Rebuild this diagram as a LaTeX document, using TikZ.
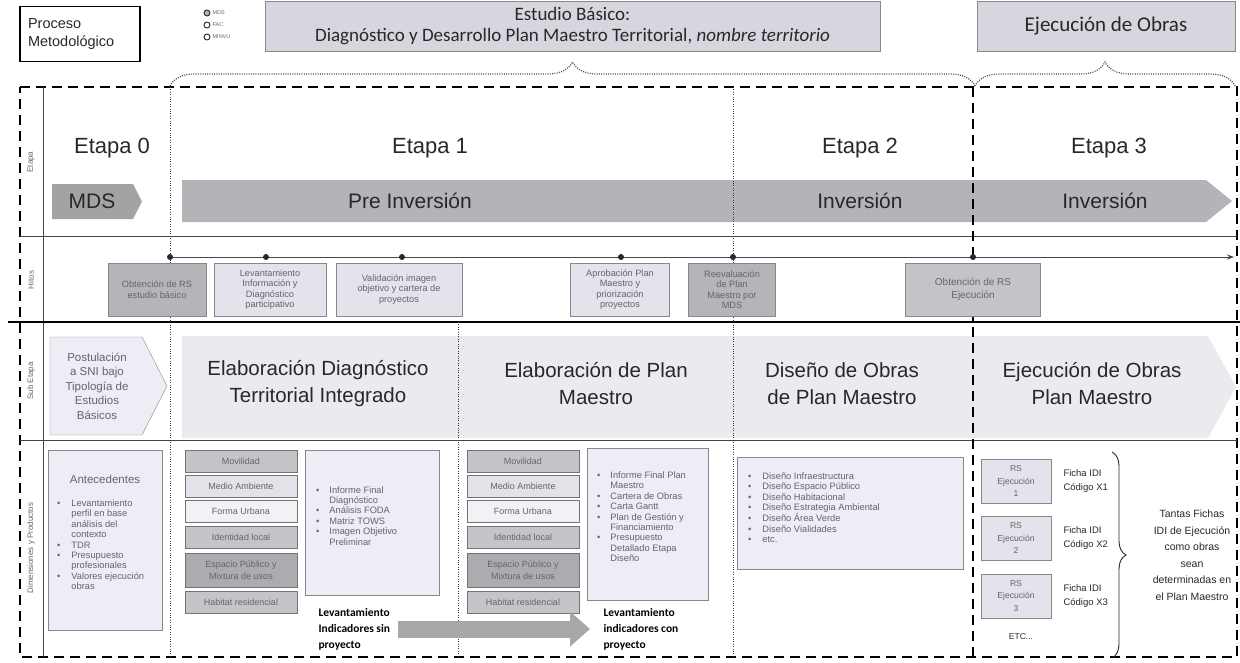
\documentclass[tikz,border=0pt]{standalone}
\usepackage{fontspec}
\setmainfont{Liberation Sans}
\newfontfamily\calfont{Carlito}
\usetikzlibrary{positioning,arrows.meta,decorations.pathreplacing}
\definecolor{inkdark}{RGB}{40,40,40}
\definecolor{inksoft}{RGB}{100,100,106}
\definecolor{gridline}{RGB}{70,70,70}
\definecolor{boxline}{RGB}{135,135,140}
\definecolor{lavlight}{RGB}{237,237,245}
\definecolor{titlefill}{RGB}{214,214,222}
\definecolor{hitodark}{RGB}{180,180,185}
\definecolor{hitomid}{RGB}{196,196,200}
\definecolor{hitolight}{RGB}{227,227,235}
\definecolor{mdsgray}{RGB}{163,163,166}
\definecolor{etapagray}{RGB}{180,180,184}
\definecolor{subgray}{RGB}{235,235,239}
\definecolor{dimmid}{RGB}{197,197,201}
\definecolor{dimsoft}{RGB}{226,226,232}
\definecolor{dimpale}{RGB}{241,241,246}
\definecolor{dimdark}{RGB}{172,172,176}
\definecolor{levgray}{RGB}{168,168,171}

\begin{document}
\begin{tikzpicture}[x=1pt, y=-1pt,
  hdr/.style={text=inkdark, font=\fontsize{22}{26}\selectfont},
  arrtext/.style={text=inkdark, font=\fontsize{21}{25}\selectfont},
  subtext/.style={text=inkdark, align=center, font=\fontsize{20.5}{27}\selectfont},
  rowlabel/.style={rotate=90, text=inksoft, font=\fontsize{8}{9}\selectfont},
  topbox/.style={draw=boxline, fill=titlefill, align=center, text=inkdark},
  legdot/.style={circle, draw=inkdark, line width=0.9pt, inner sep=0pt, minimum size=6pt, fill=white},
  legtext/.style={text=inksoft, inner sep=1pt, font=\fontsize{5.5}{6}\selectfont},
  hito/.style={draw=boxline, align=center, text=inksoft, inner sep=1pt, minimum height=53pt, font=\fontsize{9.2}{10.5}\selectfont},
  dimbox/.style={draw=gray!90!black, align=center, text=inksoft, inner sep=1pt, minimum width=112pt, font=\fontsize{9}{11.5}\selectfont},
  prodbox/.style={draw=boxline, fill=lavlight},
  prodlist/.style={anchor=west, text=inksoft, inner sep=0pt, align=left, font=\fontsize{9.3}{10.4}\selectfont},
  levtext/.style={anchor=west, align=left, text=black, font=\calfont\bfseries\fontsize{11.5}{16}\selectfont},
  rsbox/.style={draw=boxline, fill=hitolight, align=center, text=inksoft, minimum width=70pt, minimum height=44pt, inner sep=1pt, font=\fontsize{8.6}{12.5}\selectfont},
  ficha/.style={anchor=west, align=left, text=inkdark, font=\fontsize{9.5}{14}\selectfont},
  framedash/.style={line width=1.8pt, dash pattern=on 10pt off 6pt},
  dotline/.style={line width=0.9pt, gray!45!black, dash pattern=on 1pt off 1.4pt},
  dotbrace/.style={decorate, decoration={brace, amplitude=24pt}, gray!60!black, line width=1.2pt, dash pattern=on 1pt off 1.3pt}
]
\useasboundingbox (0,0) rectangle (1240,662);

% Header
\node[draw=black, line width=1.3pt, minimum width=120pt, minimum height=55pt, text width=104pt, align=left,
  text=inkdark, font=\fontsize{14.5}{18}\selectfont] (proceso) at (80,34) {Proceso\\Metodológico};
\node[legdot, fill=hitodark] (dmds) at (207,13) {};
\node[legdot] (dfac) at (207,25) {};
\node[legdot] (dminvu) at (207,37) {};
\node[legtext, right=1pt of dmds] (lmds) {MDS};
\node[legtext, right=1pt of dfac] (lfac) {FAC};
\node[legtext, right=1pt of dminvu] (lminvu) {MINVU};
\node[topbox, minimum width=615pt, minimum height=50pt, font=\calfont\fontsize{19}{21.5}\selectfont] (estudio) at (572.5,26)
  {Estudio Básico:\\Diagnóstico y Desarrollo Plan Maestro Territorial, \textit{nombre territorio}};
\node[topbox, minimum width=258pt, minimum height=50pt, font=\calfont\fontsize{21}{23}\selectfont] (ejecucion) at (1106,26) {Ejecución de Obras};
\draw[dotbrace] (170,86) -- (975,86);
\draw[dotbrace] (975,86) -- (1235,86);

% Arrows (Etapa and Sub Etapa)
\fill[mdsgray] (52,184) -- (133,184) -- (142,201.5) -- (133,219) -- (52,219) -- cycle;
\fill[etapagray] (182,180) -- (1206,180) -- (1232,201) -- (1206,222) -- (182,222) -- cycle;
\filldraw[fill=lavlight, draw=boxline] (50,337) -- (142,337) -- (167,386) -- (142,435) -- (50,435) -- cycle;
\fill[subgray] (182,336) -- (1208,336) -- (1236,387) -- (1208,438) -- (182,438) -- cycle;

% Grid
\draw[framedash] (20,87) -- (1237,87) -- (1237,657) -- (20,657) -- cycle;
\draw[gridline, line width=0.8pt] (43,87) -- (43,657);
\draw[gridline, line width=0.8pt] (20,236) -- (1237,236);
\draw[gridline, line width=0.8pt] (20,440) -- (1237,440);
\draw[black, line width=1.8pt] (8,322) -- (1240,322);
\draw[dotline] (170,87) -- (170,657);
\draw[dotline] (733,87) -- (733,657);
\draw[dotline] (458,322) -- (458,657);
\draw[framedash] (973,87) -- (973,657);

% Hitos line
\coordinate (hstart) at (170,257);
\coordinate (hend) at (1234,257);
\draw[gridline, line width=0.9pt, -{Stealth[length=7pt,width=5pt]}] (hstart) -- (hend);
\foreach \x in {170,266,402,621,733,973}
  \fill[inkdark] (\x,257) circle (3pt);

% Row labels
\node[rowlabel] (letapa) at (31,162) {Etapa};
\node[rowlabel] (lhitos) at (31,280) {Hitos};
\node[rowlabel] (lsub) at (31,381) {Sub Etapa};
\node[rowlabel] (ldim) at (31,548) {Dimensiones y Productos};

% Etapas
\node[hdr] (e0) at (112,148) {Etapa 0};
\node[hdr] (e1) at (430,148) {Etapa 1};
\node[hdr] (e2) at (860,148) {Etapa 2};
\node[hdr] (e3) at (1109,148) {Etapa 3};
\node[arrtext] (mds) at (92,201) {MDS};
\node[arrtext] (preinv) at (410,201) {Pre Inversión};
\node[arrtext] (inv2) at (860,201) {Inversión};
\node[arrtext] (inv3) at (1105,201) {Inversión};

% Hitos
\node[hito, fill=hitodark, minimum width=98pt] (h1) at (157,289.5) {Obtención de RS\\estudio básico};
\node[hito, fill=hitolight, minimum width=112pt] (h2) at (270,289.5) {Levantamiento\\Información y\\Diagnóstico\\participativo};
\node[hito, fill=hitolight, minimum width=126pt] (h3) at (399,289.5) {Validación imagen\\objetivo y cartera de\\proyectos};
\node[hito, fill=hitolight, minimum width=99pt] (h4) at (620,289.5) {Aprobación Plan\\Maestro y\\priorización\\proyectos};
\node[hito, fill=hitodark, minimum width=87pt] (h5) at (732,289.5) {Reevaluación\\de Plan\\Maestro por\\MDS};
\node[hito, fill=hitomid, minimum width=135pt, font=\fontsize{10}{12.5}\selectfont] (h6) at (973,289.5) {Obtención de RS\\Ejecución};

% Sub Etapas
\node[align=center, text=inksoft, font=\fontsize{11.5}{14.5}\selectfont] (postula) at (97,386)
  {Postulación\\a SNI bajo\\Tipología de\\Estudios\\Básicos};
\node[subtext] (s1) at (318,384) {Elaboración Diagnóstico\\Territorial Integrado};
\node[subtext] (s2) at (596,384) {Elaboración de Plan\\Maestro};
\node[subtext] (s3) at (842,384) {Diseño de Obras\\de Plan Maestro};
\node[subtext] (s4) at (1092,384) {Ejecución de Obras\\Plan Maestro};

% Dimensiones y Productos
\node[prodbox, minimum width=114pt, minimum height=180pt] (antec) at (105,540) {};
\node[text=inksoft, font=\fontsize{11.5}{13}\selectfont] (antect) at (105,479) {Antecedentes};
\node[prodlist] (antecl) at (57,546) {\begin{tabular}{@{}l@{\hspace{11pt}}l@{}}
  \textbullet & Levantamiento\\
   & perfil en base\\
   & análisis del\\
   & contexto\\
  \textbullet & TDR\\
  \textbullet & Presupuesto\\
   & profesionales\\
  \textbullet & Valores ejecución\\
   & obras
  \end{tabular}};

\foreach \cx/\col in {241/a,523/b}{
  \foreach \cy/\h/\tone/\txt [count=\k] in {461/22/dimmid/Movilidad, 486/22/dimsoft/Medio Ambiente,
      511/22/dimpale/Forma Urbana, 537/22/dimmid/Identidad local,
      570/34/dimdark/{Espacio Público y\\Mixtura de usos}, 602/22/dimmid/Habitat residencial}
    \node[dimbox, fill=\tone, minimum height=\h pt] (dim-\col-\k) at (\cx,\cy) {\txt};
}

\node[prodbox, minimum width=134pt, minimum height=145pt] (prod1) at (372,522.5) {};
\node[prodlist] (prod1l) at (316,517) {\begin{tabular}{@{}l@{\hspace{10pt}}l@{}}
  \textbullet & Informe Final\\
   & Diagnóstico\\
  \textbullet & Análisis FODA\\
  \textbullet & Matriz TOWS\\
  \textbullet & Imagen Objetivo\\
   & Preliminar
  \end{tabular}};

\node[prodbox, minimum width=121pt, minimum height=152pt] (prod2) at (647.5,524) {};
\node[prodlist] (prod2l) at (597,518) {\begin{tabular}{@{}l@{\hspace{10pt}}l@{}}
  \textbullet & Informe Final Plan\\
   & Maestro\\
  \textbullet & Cartera de Obras\\
  \textbullet & Carta Gantt\\
  \textbullet & Plan de Gestión y\\
   & Financiamiento\\
  \textbullet & Presupuesto\\
   & Detallado Etapa\\
   & Diseño
  \end{tabular}};

\node[prodbox, minimum width=226pt, minimum height=112pt] (prod3) at (850,513) {};
\node[prodlist] (prod3l) at (748,509) {\begin{tabular}{@{}l@{\hspace{11pt}}l@{}}
  \textbullet & Diseño Infraestructura\\
  \textbullet & Diseño Espacio Público\\
  \textbullet & Diseño Habitacional\\
  \textbullet & Diseño Estrategia Ambiental\\
  \textbullet & Diseño Área Verde\\
  \textbullet & Diseño Vialidades\\
  \textbullet & etc.
  \end{tabular}};

% Levantamiento indicadores
\node[levtext] (lsin) at (315,629) {Levantamiento\\Indicadores sin\\proyecto};
\node[levtext] (lcon) at (600,629) {Levantamiento\\indicadores con\\proyecto};
\draw[levgray, line width=17pt, -{Triangle[length=20pt,width=34pt]}, shorten <=4pt, shorten >=10pt] (lsin.east) -- (lcon.west);

% Ejecucion
\node[rsbox] (rs1) at (1016,481) {RS\\Ejecución\\1};
\node[rsbox] (rs2) at (1016,538) {RS\\Ejecución\\2};
\node[rsbox] (rs3) at (1016,596) {RS\\Ejecución\\3};
\node[ficha] (f1) at (1060,481) {Ficha IDI\\Código X1};
\node[ficha] (f2) at (1060,538) {Ficha IDI\\Código X2};
\node[ficha] (f3) at (1060,596) {Ficha IDI\\Código X3};
\node[text=inkdark, font=\fontsize{8.5}{10}\selectfont] (etc) at (1021,637) {ETC...};
\draw[decorate, decoration={brace, amplitude=14pt}, inkdark, line width=0.9pt] (1112,452) -- (1112,658);
\node[align=center, text=inkdark, font=\fontsize{10.5}{16.5}\selectfont] (tantas) at (1192,555)
  {Tantas Fichas\\IDI de Ejecución\\como obras\\sean\\determinadas en\\el Plan Maestro};
\end{tikzpicture}
\end{document}
